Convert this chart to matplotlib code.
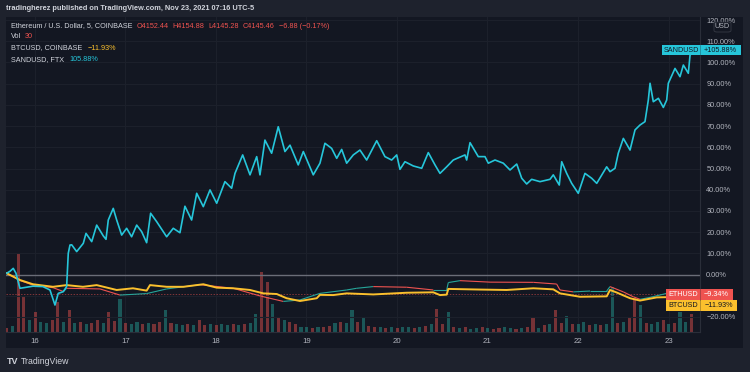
import matplotlib.pyplot as plt
import numpy as np
from matplotlib.collections import LineCollection
from matplotlib.patches import Rectangle, FancyBboxPatch

plt.rcParams['font.family'] = ['Liberation Sans', 'DejaVu Sans']

# ---- data (percent change, time in day-of-month, Nov 2021) ----
sand_t = [15.687, 15.724, 15.760, 15.790, 15.834, 15.908, 15.978, 16.088, 16.166, 16.221,
          16.257, 16.313, 16.350, 16.368, 16.387, 16.406, 16.461, 16.534, 16.564, 16.627,
          16.682, 16.755, 16.785, 16.810, 16.865, 16.903, 16.958, 17.013, 17.068, 17.124,
          17.179, 17.234, 17.278, 17.345, 17.455, 17.528, 17.602, 17.657, 17.731, 17.787,
          17.860, 17.934, 18.008, 18.099, 18.173, 18.210, 18.295, 18.376, 18.450, 18.486,
          18.541, 18.615, 18.688, 18.762, 18.818, 18.909, 18.965, 19.075, 19.149, 19.204,
          19.278, 19.334, 19.389, 19.444, 19.517, 19.591, 19.665, 19.776, 19.867, 19.941,
          19.997, 20.033, 20.088, 20.180, 20.273, 20.346, 20.420, 20.475, 20.549, 20.622,
          20.751, 20.770, 20.807, 20.898, 20.972, 21.009, 21.083, 21.175, 21.249, 21.323,
          21.378, 21.433, 21.488, 21.580, 21.691, 21.727, 21.793, 21.820, 21.875, 21.930,
          22.003, 22.077, 22.151, 22.207, 22.317, 22.354, 22.409, 22.445, 22.501, 22.575,
          22.630, 22.685, 22.740, 22.777, 22.796, 22.832, 22.888, 22.943, 22.980, 22.998,
          23.072, 23.127, 23.164, 23.219, 23.238, 23.293]
sand_v = [0.6, 1.5, 2.9, 0.6, -6.5, -6.0, -5.5, -5.7, -7.3, -14.4,
          -8.9, -8.1, -5.7, 10.0, 13.9, 14.0, 10.8, 14.7, 19.4, 15.5,
          23.3, 18.2, 16.6, 25.7, 31.2, 25.7, 18.6, 21.8, 17.8, 23.3,
          20.2, 15.0, 28.9, 24.9, 17.8, 21.8, 19.7, 32.2, 25.7, 38.3,
          32.0, 39.9, 33.6, 43.8, 40.7, 47.7, 56.4, 47.0, 55.6, 47.0,
          63.4, 57.2, 69.7, 58.0, 61.0, 51.7, 58.0, 47.0, 52.5, 61.9,
          59.5, 54.8, 59.0, 52.5, 56.4, 58.7, 54.0, 63.1, 55.6, 54.0,
          56.4, 49.6, 53.2, 51.2, 50.1, 57.5, 51.7, 47.7, 50.8, 54.0,
          56.4, 54.0, 62.2, 55.6, 55.6, 52.5, 54.0, 52.5, 49.3, 52.1,
          45.4, 42.7, 44.9, 43.8, 44.9, 47.0, 42.2, 53.2, 47.7, 43.0,
          38.3, 47.7, 45.4, 43.0, 50.8, 48.5, 50.1, 57.2, 64.2, 58.7,
          68.2, 70.5, 72.1, 82.3, 90.2, 81.5, 83.1, 78.8, 82.3, 90.2,
          97.2, 93.3, 98.8, 94.9, 103.5, 105.88]

btc_t = [15.687, 15.834, 15.978, 16.199, 16.350, 16.530, 16.682, 16.903, 17.083, 17.234,
         17.271, 17.455, 17.639, 17.860, 18.008, 18.191, 18.376, 18.523, 18.671, 18.781,
         18.928, 19.113, 19.149, 19.296, 19.444, 19.738, 20.107, 20.401, 20.475, 20.549,
         20.567, 20.917, 21.212, 21.506, 21.727, 21.801, 22.022, 22.317, 22.354, 22.428,
         22.575, 22.685, 22.870, 23.072, 23.293]
btc_v = [0.6, -2.6, -4.6, -5.8, -5.0, -5.8, -5.0, -7.3, -6.5, -7.6,
         -5.0, -5.8, -5.8, -4.6, -6.2, -6.5, -7.3, -8.9, -9.2, -11.2,
         -12.5, -11.2, -9.6, -9.7, -8.9, -9.4, -8.6, -8.4, -9.7, -9.5,
         -6.8, -7.1, -7.3, -6.5, -7.0, -8.9, -10.5, -10.3, -7.3, -8.5,
         -11.2, -12.3, -10.8, -10.6, -11.93]

eth_t = [15.687, 15.834, 15.978, 16.199, 16.313, 16.350, 16.718, 16.939, 17.234, 17.455,
         17.823, 18.191, 18.486, 18.744, 18.928, 19.149, 19.444, 19.555, 19.738, 20.107,
         20.401, 20.549, 20.567, 20.696, 21.028, 21.506, 21.764, 21.801, 21.948, 22.133,
         22.317, 22.354, 22.501, 22.611, 22.685, 22.796, 22.980, 23.293]
eth_v = [0.6, -2.8, -5.0, -6.2, -8.0, -6.5, -6.8, -9.7, -9.0, -6.8,
         -4.8, -6.5, -10.1, -12.7, -12.0, -8.9, -7.3, -6.5, -5.7, -6.0,
         -7.3, -7.3, -3.8, -2.9, -3.6, -3.7, -4.5, -7.3, -8.2, -7.8,
         -7.8, -5.7, -8.2, -10.5, -11.7, -10.8, -8.9, -9.34]

# ETH volume, 90-minute buckets starting Nov 15 16:34
vol_t0 = 15.69
vol = [4, 6, 78, 35, 12, 20, 10, 9, 12, 30, 10, 22, 9, 10, 8, 9, 12, 9, 20, 11,
       33, 9, 8, 10, 8, 9, 8, 10, 22, 9, 8, 7, 8, 7, 12, 7, 8, 7, 8, 7,
       8, 7, 8, 9, 18, 60, 50, 28, 15, 12, 10, 8, 5, 5, 4, 5, 5, 6, 9, 10,
       9, 22, 10, 14, 6, 5, 5, 4, 5, 4, 5, 5, 4, 5, 6, 8, 23, 8, 20, 5,
       4, 5, 3, 4, 5, 4, 3, 4, 5, 4, 3, 4, 5, 14, 4, 7, 8, 22, 9, 16,
       8, 8, 10, 7, 8, 7, 8, 45, 9, 10, 14, 34, 27, 9, 8, 10, 12, 8, 9, 20,
       10, 18]
vol_up = "0100101100101010010010110100101101001011010110010100110100101101001010110101001010110100110100101001011010110100101101011010"

days = [16, 17, 18, 19, 20, 21, 22, 23]
pct_ticks = list(range(-20, 121, 10))

OUTER = '#1e222d'
PANE = '#131722'
GRID = '#1c202b'
TXT = '#b2b5be'
RED = '#ef5350'
TEAL = '#26a69a'
CYAN = '#26c6da'
GOLD = '#fbc02d'

W, H = 750, 372
fig = plt.figure(figsize=(W / 100, H / 100), dpi=100, facecolor=OUTER)


def fx(px):
    return px / W


def fy(py):
    return 1 - py / H


fig.patches.append(Rectangle((fx(6), fy(348)), fx(743) - fx(6), fy(17) - fy(348),
                             transform=fig.transFigure, facecolor=PANE, edgecolor='none', zorder=-5))

rect = [fx(6), fy(332), fx(700) - fx(6), fy(17) - fy(332)]
axv = fig.add_axes(rect)
axv.set_facecolor(PANE)
ax = fig.add_axes(rect, sharex=axv)
ax.patch.set_visible(False)

xmin, xmax = 15.68, 23.348
ax.set_xlim(xmin, xmax)
ax.set_ylim(-27.12, 121.46)

# volume
vt = vol_t0 + np.arange(len(vol)) / 16
vc = [TEAL if c == '1' else RED for c in vol_up[:len(vol)]]
axv.bar(vt, vol, width=1 / 16 * 0.55, color=vc, alpha=0.45, linewidth=0)
axv.set_ylim(0, 315)
axv.set_yticks([])
axv.tick_params(axis='x', length=0, labelbottom=False)
for s in axv.spines.values():
    s.set_visible(False)
axv.set_xticks(days)
axv.grid(axis='x', color=GRID, lw=0.8)
axv.set_axisbelow(True)


def pct(v):
    return '%.2f%%' % v if v >= 0 else '\u2212%.2f%%' % abs(v)


# grid and price scale (the -10% label sits under the last-value boxes)
ax.set_yticks(pct_ticks)
ax.set_yticklabels(['' if v == -10 else pct(v) for v in pct_ticks])
ax.grid(axis='y', color=GRID, lw=0.8)
ax.set_axisbelow(True)
ax.yaxis.tick_right()
ax.tick_params(axis='y', length=0, pad=4.5, labelsize=5.3, labelcolor=TXT)
ax.set_xticks(days)
ax.set_xticklabels([str(d) for d in days])
ax.tick_params(axis='x', length=0, pad=4, labelsize=5.6, labelcolor=TXT)
for k, s in ax.spines.items():
    s.set_visible(k in ('right', 'bottom'))
    s.set_color('#2a2e39')
    s.set_linewidth(0.8)

# reference lines
ax.axhline(0, color='#6a6d78', lw=1.0, zorder=2)
ax.axhline(eth_v[-1], color=RED, lw=0.7, ls=(0, (1.5, 1.5)), alpha=0.5, zorder=2)

# ETH line coloured by direction
pts = np.column_stack([eth_t, eth_v])
segs = np.stack([pts[:-1], pts[1:]], axis=1)
seg_c = [TEAL if b >= a else RED for a, b in zip(eth_v[:-1], eth_v[1:])]
ax.add_collection(LineCollection(segs, colors=seg_c, linewidths=0.8, zorder=3))

ax.plot(btc_t, btc_v, color=GOLD, lw=1.4, zorder=4)
ax.plot(sand_t, sand_v, color=CYAN, lw=1.2, zorder=5)

# header and legend text
fig.text(fx(6), fy(9), 'tradingherez published on TradingView.com, Nov 23, 2021 07:16 UTC-5',
         color='#d1d4dc', fontsize=5.3, va='center', fontweight='bold')
fs = 5.2

fig.canvas.draw()
rend = fig.canvas.get_renderer()
to_fig = fig.transFigure.inverted()


def chain(yp, parts):
    xpos = fx(11)
    for s, c, gap in parts:
        t = fig.text(xpos + gap / W, fy(yp), s, color=c, fontsize=fs, va='center')
        bb = t.get_window_extent(rend)
        xpos = to_fig.transform((bb.x1, 0))[0]


chain(26, [('Ethereum / U.S. Dollar, 5, COINBASE', '#d1d4dc', 0), ('O4152.44', RED, 4),
           ('H4154.88', RED, 4), ('L4145.28', RED, 4), ('C4145.46', RED, 4),
           ('\u22126.88 (\u22120.17%)', RED, 4)])
chain(37, [('Vol', '#d1d4dc', 0), ('30', RED, 4)])
chain(48, [('BTCUSD, COINBASE', '#d1d4dc', 0), ('\u221211.93%', GOLD, 5)])
chain(59.5, [('SANDUSD, FTX', '#d1d4dc', 0), ('105.88%', CYAN, 5)])

# USD unit box
fig.patches.append(FancyBboxPatch((fx(714), fy(32)), fx(731) - fx(714), fy(22) - fy(32),
                                  boxstyle='round,pad=0,rounding_size=0.004', transform=fig.transFigure,
                                  facecolor=PANE, edgecolor='#363a45', lw=0.6, zorder=5))
fig.text(fx(722.5), fy(27), 'USD', color=TXT, fontsize=5.2, ha='center', va='center', zorder=6)


# last-value labels on the price scale
def last_label(name, val, color, tcolor, wname, wval, shift=0):
    yp = to_fig.transform(ax.transData.transform((xmax, val)))[1] - shift / H
    h = 10.5 / H
    fig.patches.append(Rectangle((fx(700 - wname), yp - h / 2), wname / W, h, transform=fig.transFigure,
                                 facecolor=color, edgecolor='none', zorder=7))
    fig.patches.append(Rectangle((fx(700), yp - h / 2), wval / W, h, transform=fig.transFigure,
                                 facecolor=color, edgecolor='none', zorder=7))
    fig.lines.append(plt.Line2D([fx(700), fx(700)], [yp - h / 2, yp + h / 2], transform=fig.transFigure,
                                color=PANE, lw=0.5, alpha=0.4, zorder=8))
    fig.text(fx(700 - wname / 2), yp, name, color=tcolor, fontsize=5.2, ha='center', va='center', zorder=9)
    txt = ('+%.2f%%' % val) if val >= 0 else pct(val)
    fig.text(fx(700 + wval / 2), yp, txt, color=tcolor, fontsize=5.2, ha='center', va='center', zorder=9)


last_label('SANDUSD', sand_v[-1], CYAN, PANE, 38, 41)
last_label('ETHUSD', eth_v[-1], RED, 'white', 34, 33)
last_label('BTCUSD', btc_v[-1], GOLD, PANE, 34, 37, shift=5.5)

# TradingView watermark
fig.text(fx(7), fy(361), 'TV', color='#d1d4dc', fontsize=6.5, fontweight='bold', va='center')
fig.text(fx(21), fy(361), 'TradingView', color='#d1d4dc', fontsize=6.3, va='center')

fig.savefig('out.png', dpi=100, facecolor=OUTER)
